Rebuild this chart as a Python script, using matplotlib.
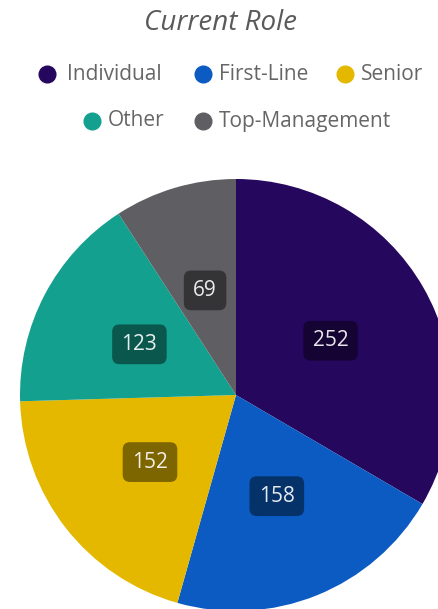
import matplotlib
matplotlib.use("Agg")
import matplotlib.pyplot as plt
from matplotlib.lines import Line2D
import numpy as np

# data
roles = ["Individual", "First-Line", "Senior", "Other", "Top-Management"]
counts = [252, 158, 152, 123, 69]
colors = ["#26075E", "#0B5BC2", "#E5B800", "#13A08E", "#5F5F63"]

plt.rcParams["font.family"] = ["Open Sans", "DejaVu Sans"]

fig = plt.figure(figsize=(4.39, 6.09), dpi=100)
W, H = 439, 609

# pie axes covering the whole figure, one data unit = one pixel
ax = fig.add_axes([0, 0, 1, 1])
wedges, _ = ax.pie(counts, colors=colors, startangle=90, counterclock=False,
                   center=(236, H - 395), radius=216,
                   wedgeprops=dict(linewidth=0))
ax.set_xlim(0, W)
ax.set_ylim(0, H)
ax.set_aspect("equal")
ax.axis("off")

# value labels with dark rounded boxes
for w, n in zip(wedges, counts):
    ang = np.deg2rad((w.theta1 + w.theta2) / 2)
    x = 236 + 0.505 * 216 * np.cos(ang)
    y = H - 395 + 0.505 * 216 * np.sin(ang)
    ax.text(x, y, str(n), ha="center", va="center", fontsize=15,
            color="white", alpha=0.9,
            bbox=dict(boxstyle="round,pad=0.45,rounding_size=0.35",
                      fc=(0, 0, 0, 0.45), ec="none"))

# title
fig.text(221 / W, 1 - 23 / H, "Current Role", ha="center", va="center",
         fontsize=20, style="italic", color="#5a5a5a")

# legend drawn in two centred rows
rows = [[(47, 67), (203, 219), (345, 361)], [(92, 108), (203, 219)]]
row_y = [74, 121]
k = 0
for r, ry in zip(rows, row_y):
    for mx, tx in r:
        fig.add_artist(Line2D([mx / W], [1 - ry / H], marker="o", markersize=12,
                              color=colors[k], linestyle="none",
                              transform=fig.transFigure))
        fig.text(tx / W, 1 - ry / H, roles[k], ha="left", va="center",
                 fontsize=15, color="#666666")
        k += 1

fig.savefig("out.png", dpi=100)
